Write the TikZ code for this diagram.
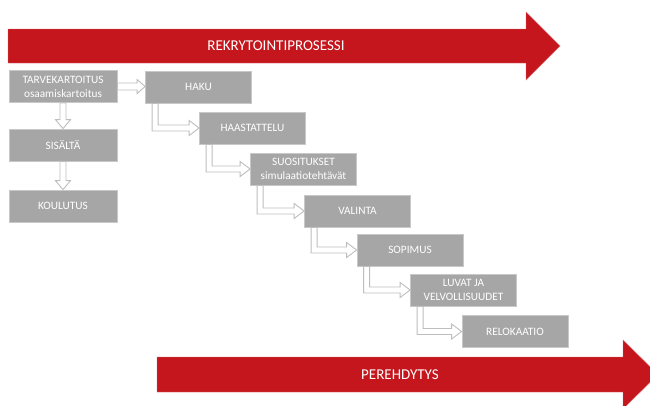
\documentclass[tikz,border=0pt]{standalone}
\usepackage{fontspec}
\setmainfont{Carlito}
\usetikzlibrary{calc}
\definecolor{procred}{RGB}{196,22,28}
\definecolor{boxgray}{RGB}{166,166,166}
\definecolor{boxedge}{RGB}{200,200,200}
\definecolor{arrowedge}{RGB}{190,190,190}
\newcommand{\hollowright}[2]{\draw[hollowarrow] let \p1=(#1.east), \p2=(#2.west) in (\x1,\y1+3.5pt) -- (\x2-8pt,\y1+3.5pt) -- (\x2-8pt,\y1+7pt) -- (\x2,\y1) -- (\x2-8pt,\y1-7pt) -- (\x2-8pt,\y1-3.5pt) -- (\x1,\y1-3.5pt) -- cycle;}
\newcommand{\hollowdown}[2]{\draw[hollowarrow] let \p1=(#1.south), \p2=(#2.north) in (\x1-3pt,\y1) -- (\x1-3pt,\y2+9pt) -- (\x1-7.5pt,\y2+9pt) -- (\x1,\y2) -- (\x1+7.5pt,\y2+9pt) -- (\x1+3pt,\y2+9pt) -- (\x1+3pt,\y1) -- cycle;}
\newcommand{\hollowelbow}[2]{\draw[hollowarrow] let \p1=(#1.south west), \p2=(#2.west) in (\x1+7pt,\y1) -- (\x1+7pt,\y2-3pt) -- (\x2-10pt,\y2-3pt) -- (\x2-10pt,\y2-7.5pt) -- (\p2) -- (\x2-10pt,\y2+7.5pt) -- (\x2-10pt,\y2+3pt) -- (\x1+13pt,\y2+3pt) -- (\x1+13pt,\y1) -- cycle;}
\begin{document}
\begin{tikzpicture}[x=1pt, y=-1pt,
  stage/.style={rectangle, fill=boxgray, draw=boxedge, line width=.8pt, minimum width=106pt, minimum height=32pt, inner sep=1pt, align=center, text=white, font=\fontsize{11.3}{14}\selectfont},
  hollowarrow/.style={draw=arrowedge, fill=white, line width=.9pt, line join=miter},
  bigarrow/.style={fill=procred, draw=procred!60, line width=.4pt},
  bigtext/.style={text=white, font=\fontsize{15}{17}\selectfont}]
\useasboundingbox (0,0) rectangle (650,405);
\clip (0,0) rectangle (650,405);
\fill[white] (0,0) rectangle (650,405);

\draw[bigarrow] (8,29) -- (526,29) -- (526,12) -- (560,46) -- (526,80) -- (526,63) -- (8,63) -- cycle;
\node[bigtext] (rekry) at (276,46) {REKRYTOINTIPROSESSI};
\draw[bigarrow] (157,357) -- (623,357) -- (623,340) -- (658,374.5) -- (623,409) -- (623,392) -- (157,392) -- cycle;
\node[bigtext] (pere) at (400,374.5) {PEREHDYTYS};

\node[stage, minimum width=108pt] (tarve) at (63,86.5) {TARVEKARTOITUS\\osaamiskartoitus};
\node[stage, minimum width=108pt] (sisalta) at (63,145) {SISÄLTÄ};
\node[stage, minimum width=108pt] (koulutus) at (63,206) {KOULUTUS};
\node[stage] (haku) at (198.5,87) {HAKU};
\node[stage] (haast) at (252.5,128) {HAASTATTELU};
\node[stage] (suos) at (303.5,169) {SUOSITUKSET\\simulaatiotehtävät};
\node[stage] (valinta) at (357.5,211) {VALINTA};
\node[stage] (sopimus) at (410,250) {SOPIMUS};
\node[stage] (luvat) at (463.5,290) {LUVAT JA\\VELVOLLISUUDET};
\node[stage] (reloka) at (515,331.5) {RELOKAATIO};

\hollowright{tarve}{haku}
\hollowdown{tarve}{sisalta}
\hollowdown{sisalta}{koulutus}
\hollowelbow{haku}{haast}
\hollowelbow{haast}{suos}
\hollowelbow{suos}{valinta}
\hollowelbow{valinta}{sopimus}
\hollowelbow{sopimus}{luvat}
\hollowelbow{luvat}{reloka}

\end{tikzpicture}
\end{document}
